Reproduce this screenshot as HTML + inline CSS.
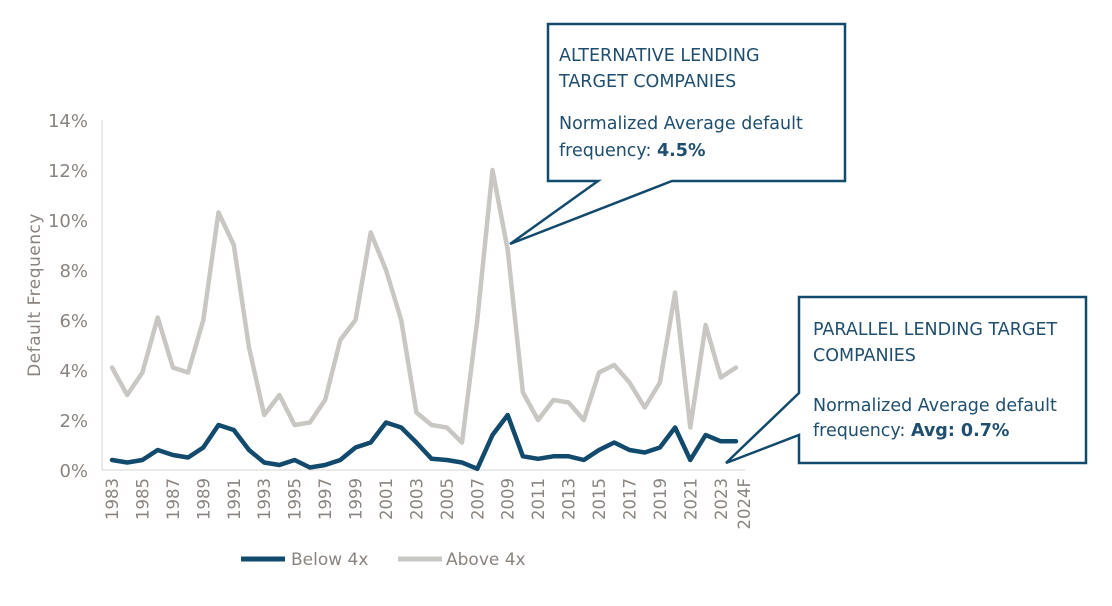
<!DOCTYPE html>
<html><head><meta charset="utf-8"><style>
html,body{margin:0;padding:0;background:#fff;}
svg{display:block;font-family:"DejaVu Sans","Liberation Sans",sans-serif;}
</style></head><body>
<svg id="chart" width="1112" height="606" viewBox="0 0 1112 606">
<g id="axes"></g>
<g id="series"></g>
<text transform="translate(40,295) rotate(-90)" text-anchor="middle" font-size="17" fill="#8a8480" letter-spacing="0.5">Default Frequency</text>
<g>
 <g><line x1="241" y1="559" x2="285" y2="559" stroke="#124a6e" stroke-width="5"/><text x="291" y="565" font-size="17" fill="#8a8480">Below 4x</text></g>
 <g><line x1="398" y1="559" x2="442" y2="559" stroke="#c9c7c3" stroke-width="5"/><text x="446" y="565" font-size="17" fill="#8a8480">Above 4x</text></g>
</g>
<g>
 <path d="M548,24 H845 V181 H672 L510,244 L598,181 H548 Z" fill="#fff" stroke="#124a6e" stroke-width="2.5"/>
 <text x="559" y="61" font-size="17.5" fill="#1f4e6e">ALTERNATIVE LENDING</text>
 <text x="559" y="87" font-size="17.5" fill="#1f4e6e">TARGET COMPANIES</text>
 <text x="559" y="129" font-size="17.5" fill="#1f4e6e">Normalized Average default</text>
 <text x="559" y="156" font-size="17.5" fill="#1f4e6e">frequency: <tspan font-weight="bold">4.5%</tspan></text>
</g>
<g>
 <path d="M799,297 H1086 V463 H799 V435 L726,463 L799,393 Z" fill="#fff" stroke="#124a6e" stroke-width="2.5"/>
 <text x="813" y="335" font-size="17.5" fill="#1f4e6e">PARALLEL LENDING TARGET</text>
 <text x="813" y="361" font-size="17.5" fill="#1f4e6e">COMPANIES</text>
 <text x="813" y="411" font-size="17.5" fill="#1f4e6e">Normalized Average default</text>
 <text x="813" y="436" font-size="17.5" fill="#1f4e6e">frequency: <tspan font-weight="bold">Avg: 0.7%</tspan></text>
</g>
</svg>
<script>
const categories = ["1983","1984","1985","1986","1987","1988","1989","1990","1991","1992","1993","1994","1995","1996","1997","1998","1999","2000","2001","2002","2003","2004","2005","2006","2007","2008","2009","2010","2011","2012","2013","2014","2015","2016","2017","2018","2019","2020","2021","2022","2023","2024F"];
const above4x = [4.1,3.0,3.9,6.1,4.1,3.9,6.0,10.3,9.0,4.9,2.2,3.0,1.8,1.9,2.8,5.2,6.0,9.5,8.0,6.0,2.3,1.8,1.7,1.1,6.0,12.0,8.8,3.1,2.0,2.8,2.7,2.0,3.9,4.2,3.5,2.5,3.5,7.1,1.7,5.8,3.7,4.1];
const below4x = [0.4,0.3,0.4,0.8,0.6,0.5,0.9,1.8,1.6,0.8,0.3,0.2,0.4,0.1,0.2,0.4,0.9,1.1,1.9,1.7,1.1,0.45,0.4,0.3,0.05,1.4,2.2,0.55,0.45,0.55,0.55,0.4,0.8,1.1,0.8,0.7,0.9,1.7,0.4,1.4,1.15,1.15];
const yTicks = [0,2,4,6,8,10,12,14];

const NS="http://www.w3.org/2000/svg";
const x0=112, x1=736, yBase=470, yTop=120, yMax=14;
const xs=i=>x0+i*(x1-x0)/(categories.length-1);
const ys=v=>yBase-(v/yMax)*(yBase-yTop);
function mk(tag,attrs,parent){const e=document.createElementNS(NS,tag);for(const k in attrs)e.setAttribute(k,attrs[k]);parent.appendChild(e);return e;}
const axes=document.getElementById('axes'), series=document.getElementById('series');

const yl=mk('line',{x1:102,y1:yTop,x2:102,y2:yBase,stroke:'#d8d6d3','stroke-width':1},axes);


const xl=mk('line',{x1:102,y1:yBase,x2:745,y2:yBase,stroke:'#d8d6d3','stroke-width':1},axes);



yTicks.forEach(t=>{
  const tx=mk('text',{x:88,y:ys(t)+7,'text-anchor':'end','font-size':18,fill:'#8a8480'},axes);
  tx.textContent=t+'%';
  
  
});
categories.forEach((c,i)=>{
  const last=i===categories.length-1;
  if(i%2===1 && !last) return;
  const tx=mk('text',{transform:`translate(${xs(i)+(last?14:6)},${yBase+8}) rotate(-90)`,'text-anchor':'end','font-size':16.5,fill:'#8a8480'},axes);
  tx.textContent=c;
  
  
});

function line(vals,color,name){
  const d=vals.map((v,i)=>(i?'L':'M')+xs(i).toFixed(1)+','+ys(v).toFixed(1)).join(' ');
  const p=mk('path',{d:d,fill:'none',stroke:color,'stroke-width':4.5,'stroke-linejoin':'round','stroke-linecap':'round'},series);
  
  
}
line(above4x,'#c9c7c3','above-4x-line');
line(below4x,'#124a6e','below-4x-line');
</script>
</body></html>
